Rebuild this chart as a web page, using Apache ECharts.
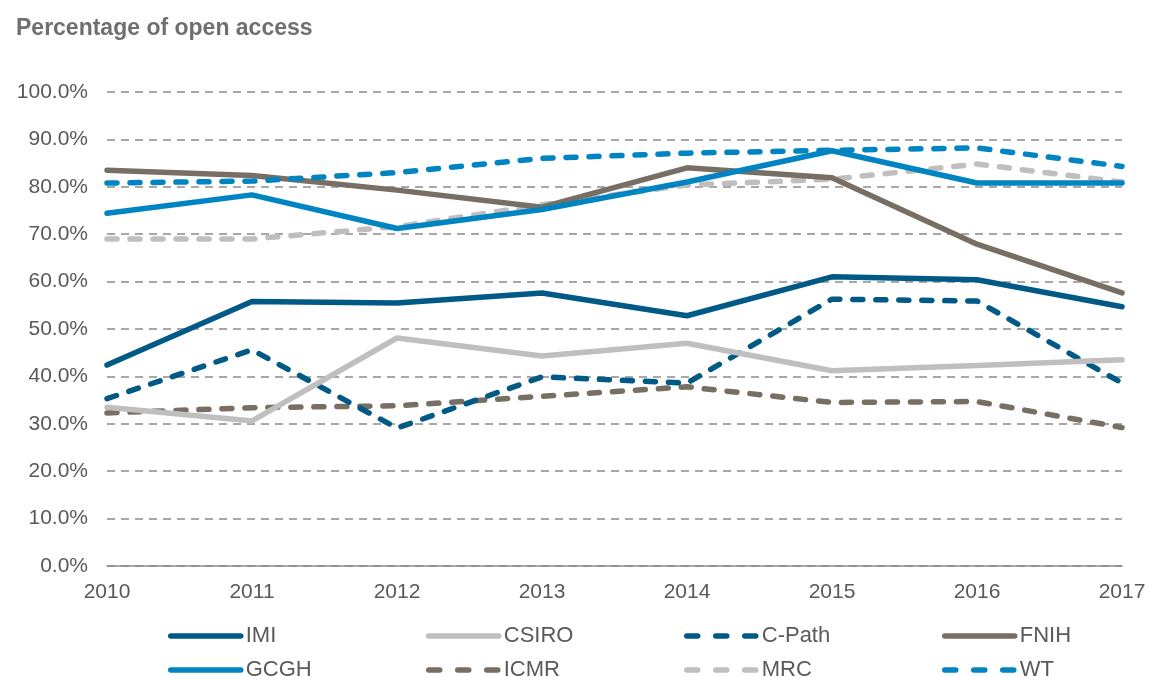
<!DOCTYPE html>
<html>
<head>
<meta charset="utf-8">
<script src="https://cdn.jsdelivr.net/npm/echarts@6/dist/echarts.min.js"></script>
<style>
  html, body { margin: 0; padding: 0; background: #fff; }
  #chart { width: 1149px; height: 677px; }
</style>
</head>
<body>
<div id="chart"></div>
<script>
    var years = ['2010', '2011', '2012', '2013', '2014', '2015', '2016', '2017']
    var imi = [42.4, 55.8, 55.5, 57.6, 52.8, 61.0, 60.4, 54.7]
    var csiro = [33.5, 30.6, 48.1, 44.3, 47.0, 41.2, 42.3, 43.5]
    var cpath = [35.3, 45.6, 29.1, 39.9, 38.6, 56.3, 55.9, 38.6]
    var fnih = [83.5, 82.4, 79.3, 75.7, 84.0, 81.9, 67.9, 57.6]
    var gcgh = [74.4, 78.3, 71.2, 75.2, 81.0, 87.6, 80.8, 80.8]
    var icmr = [32.3, 33.4, 33.8, 35.8, 37.8, 34.5, 34.7, 29.2]
    var mrc = [69.0, 69.0, 71.6, 76.2, 80.4, 81.6, 84.8, 81.0]
    var wt = [80.8, 81.2, 83.0, 86.0, 87.1, 87.7, 88.2, 84.3]

    // legend order, two rows of four
    var legendNames = ['IMI', 'CSIRO', 'C-Path', 'FNIH', 'GCGH', 'ICMR', 'MRC', 'WT']
    var dashedNames = ['C-Path', 'ICMR', 'MRC', 'WT']

    var darkBlue = '#005a85'
    var lightGray = '#bfbfbf'
    var taupe = '#776e64'
    var blue = '#0084c2'
    var dash = [10, 13]
    var font = 'Liberation Sans, Arial, sans-serif'

    function line (name, data, color, dashed) {
        return {
            name: name,
            type: 'line',
            data: data,
            symbol: 'none',
            lineStyle: {
                color: color,
                width: 5.5,
                type: dashed ? dash : 'solid',
                cap: 'round'
            },
            itemStyle: { color: color }
        }
    }

    // one legend per item so the columns line up like the original
    var legends = legendNames.map(function (name, i) {
        var dashed = dashedNames.indexOf(name) > -1
        return {
            data: [name],
            left: 163 + (i % 4) * 258,
            top: i < 4 ? 620 : 654,
            itemWidth: 70,
            itemHeight: 14,
            itemGap: 0,
            itemStyle: { opacity: 0 },
            lineStyle: { width: 5.5, type: dashed ? [11, 18] : 'solid', cap: 'round' },
            textStyle: {
                fontFamily: font,
                fontSize: 22,
                color: '#595959'
            }
        }
    })

    var option = {
        animation: false,
        title: {
            text: 'Percentage of open access',
            left: 11,
            top: 12,
            textStyle: {
                fontFamily: font,
                fontSize: 23,
                fontWeight: 'bold',
                color: '#6f6f6f'
            }
        },
        grid: {
            left: 107,
            right: 27,
            top: 92,
            bottom: 111
        },
        legend: legends,
        xAxis: {
            type: 'category',
            boundaryGap: false,
            data: years,
            axisLine: { show: true, lineStyle: { color: '#8c8c8c', width: 1.5 } },
            axisTick: { show: false },
            axisLabel: {
                margin: 16,
                fontFamily: font,
                fontSize: 21,
                color: '#595959'
            }
        },
        yAxis: {
            type: 'value',
            min: 0,
            max: 100,
            interval: 10,
            axisLine: { show: false },
            axisTick: { show: false },
            axisLabel: {
                margin: 19,
                fontFamily: font,
                fontSize: 21,
                color: '#595959',
                formatter: function (v) { return v.toFixed(1) + '%' }
            },
            splitLine: {
                lineStyle: { color: '#8c8c8c', width: 1.5, type: [8, 6] }
            }
        },
        series: [
            line('ICMR', icmr, taupe, true),
            line('C-Path', cpath, darkBlue, true),
            line('CSIRO', csiro, lightGray, false),
            line('IMI', imi, darkBlue, false),
            line('MRC', mrc, lightGray, true),
            line('FNIH', fnih, taupe, false),
            line('GCGH', gcgh, blue, false),
            line('WT', wt, blue, true)
        ]
    }

    var dom = echarts.init(document.getElementById('chart'))
    dom.setOption(option)
</script>
</body>
</html>
